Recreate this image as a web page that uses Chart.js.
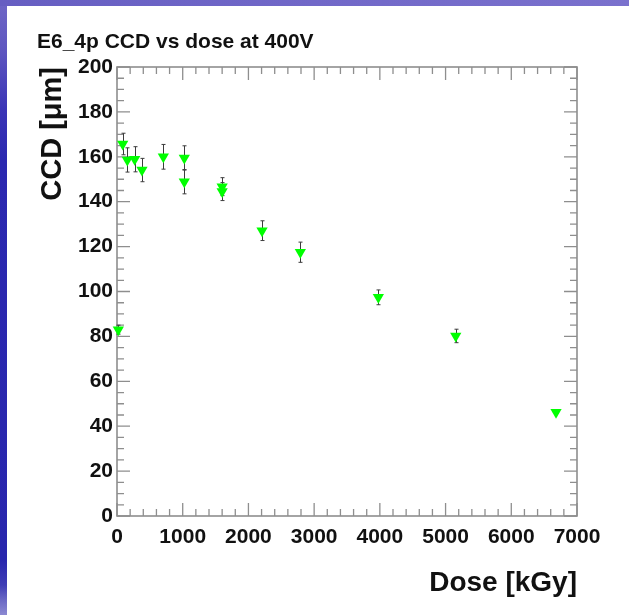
<!DOCTYPE html>
<html>
<head>
<meta charset="utf-8">
<script src="https://cdn.jsdelivr.net/npm/chart.js@4/dist/chart.umd.min.js"></script>
<style>
  html, body { margin: 0; padding: 0; width: 629px; height: 615px; overflow: hidden; }
  body {
    position: relative;
    background: linear-gradient(to bottom, #6f67c6 0px, #5e56c0 50px, #3a34b6 110px, #2b28b0 160px,
                                #2826ad 560px, #3f3db5 585px, #6a68c4 600px, #8c8ad2 615px);
  }
  #band { position: absolute; left: 0; top: 0; width: 629px; height: 6px;
          background: linear-gradient(to right, #665ec2, #7168c8 50%, #7a71cd); }
  #sheet { position: absolute; left: 7px; top: 6px; right: 0; bottom: 0; background: #ffffff; }
  #wrap { position: absolute; left: 0; top: 0; width: 629px; height: 615px; }
</style>
</head>
<body>
<div id="band"></div>
<div id="sheet"></div>
<div id="wrap"><canvas id="chart" width="629" height="615"></canvas></div>
<script>
// Charge collection distance of sample E6_4p at 400 V versus absorbed dose
const doseKGy = [20, 87, 157, 269, 380, 705, 1024, 1024, 1600, 1600, 2207, 2790, 3977, 5155, 6681];
const ccdUm   = [83, 165.7, 158.6, 158.9, 154.1, 160.0, 159.5, 148.9, 146.7, 144.5, 127.1, 117.5, 97.4, 80.2, 46.2];
const ccdErr  = [2, 4.8, 5.4, 5.6, 5.2, 5.5, 5.4, 5.4, 4.0, 4.0, 4.4, 4.5, 3.3, 3.0, 0.5];

const xTickValues = [0, 1000, 2000, 3000, 4000, 5000, 6000, 7000];
const yTickValues = [0, 20, 40, 60, 80, 100, 120, 140, 160, 180, 200];

const FONT = "'Liberation Sans', Arial, Helvetica, sans-serif";
const AXIS_GREY = '#8e8e8e';

// Frame with inward major/minor ticks on all four sides
const frameTicks = {
  id: 'frameTicks',
  beforeDatasetsDraw(chart) {
    const { ctx, chartArea: a, scales: { x, y } } = chart;
    ctx.save();
    ctx.strokeStyle = AXIS_GREY;
    ctx.lineWidth = 1.6;
    ctx.strokeRect(a.left, a.top, a.right - a.left, a.bottom - a.top);
    ctx.lineWidth = 1.3;
    ctx.beginPath();
    for (let v = x.min; v <= x.max; v += 200) {
      const px = x.getPixelForValue(v);
      const len = v % 1000 === 0 ? 13 : 7;
      ctx.moveTo(px, a.bottom); ctx.lineTo(px, a.bottom - len);
      ctx.moveTo(px, a.top);    ctx.lineTo(px, a.top + len);
    }
    for (let v = y.min; v <= y.max; v += 5) {
      const py = y.getPixelForValue(v);
      const len = v % 20 === 0 ? 13 : 7;
      ctx.moveTo(a.left, py);  ctx.lineTo(a.left + len, py);
      ctx.moveTo(a.right, py); ctx.lineTo(a.right - len, py);
    }
    ctx.stroke();
    ctx.restore();
  }
};

// Vertical error bars with short end caps, drawn beneath the markers
const errorBars = {
  id: 'errorBars',
  beforeDatasetsDraw(chart) {
    const { ctx, scales: { x, y } } = chart;
    ctx.save();
    ctx.strokeStyle = '#3c3c3c';
    ctx.lineWidth = 1;
    ctx.beginPath();
    doseKGy.forEach((d, i) => {
      const px = Math.round(x.getPixelForValue(d)) + 0.5;
      const hi = y.getPixelForValue(ccdUm[i] + ccdErr[i]);
      const lo = y.getPixelForValue(ccdUm[i] - ccdErr[i]);
      ctx.moveTo(px, hi); ctx.lineTo(px, lo);
      ctx.moveTo(px - 2, hi); ctx.lineTo(px + 2, hi);
      ctx.moveTo(px - 2, lo); ctx.lineTo(px + 2, lo);
    });
    ctx.stroke();
    ctx.restore();
  }
};

new Chart(document.getElementById('chart'), {
  type: 'scatter',
  data: {
    datasets: [{
      label: 'CCD',
      data: doseKGy.map((d, i) => ({ x: d, y: ccdUm[i] })),
      pointStyle: 'triangle',
      rotation: 180,
      pointRadius: 6.5,
      pointHoverRadius: 6.5,
      backgroundColor: '#00ff00',
      borderWidth: 0,
      clip: false
    }]
  },
  options: {
    responsive: false,
    animation: false,
    devicePixelRatio: 1,
    layout: { padding: { left: 37, top: 20, right: 52, bottom: 0 } },
    plugins: {
      legend: { display: false },
      tooltip: { enabled: false },
      title: {
        display: true,
        text: 'E6_4p CCD vs dose at 400V',
        align: 'start',
        color: '#111111',
        font: { family: FONT, size: 21, weight: 'bold', lineHeight: 1.2 },
        padding: { top: 9.4, bottom: 12.4 }
      }
    },
    scales: {
      x: {
        type: 'linear',
        min: 0, max: 7000,
        afterFit: s => { s.height = 99; },
        afterBuildTicks: s => { s.ticks = xTickValues.map(v => ({ value: v })); },
        grid: { display: false, drawTicks: false },
        border: { display: false },
        ticks: {
          color: '#111111',
          padding: 9,
          maxRotation: 0,
          autoSkip: false,
          callback: v => String(v),
          font: { family: FONT, size: 21, weight: 'bold' }
        },
        title: {
          display: true,
          text: 'Dose [kGy]',
          align: 'end',
          color: '#111111',
          font: { family: FONT, size: 28, weight: 'bold', lineHeight: 1.2 },
          padding: { top: 0, bottom: 15 }
        }
      },
      y: {
        type: 'linear',
        min: 0, max: 200,
        afterFit: s => { s.width = 80; },
        afterBuildTicks: s => { s.ticks = yTickValues.map(v => ({ value: v })); },
        grid: { display: false, drawTicks: false },
        border: { display: false },
        ticks: {
          color: '#111111',
          padding: 4,
          autoSkip: false,
          callback: v => String(v),
          font: { family: FONT, size: 21, weight: 'bold' }
        },
        title: {
          display: true,
          text: 'CCD [\u03BCm]',
          align: 'end',
          color: '#111111',
          font: { family: FONT, size: 29, weight: 'bold', lineHeight: 1.0 },
          padding: { top: 1, bottom: 0 }
        }
      }
    }
  },
  plugins: [frameTicks, errorBars]
});
</script>
</body>
</html>
